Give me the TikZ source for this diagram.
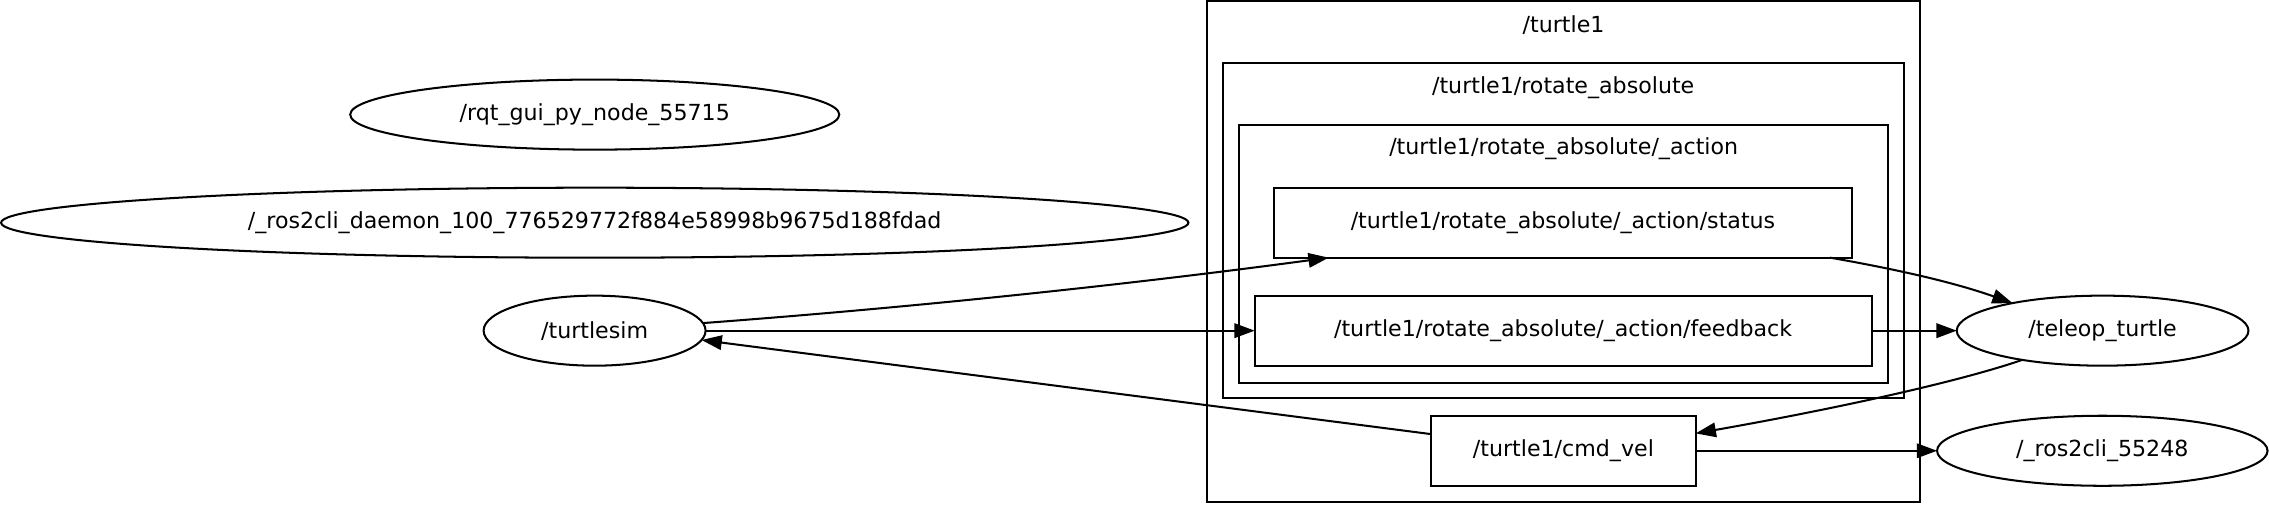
\documentclass[tikz,border=0pt]{standalone}
\usepackage{fontspec}
\setmainfont{DejaVu Sans}
\usetikzlibrary{arrows.meta,shapes.geometric}
\tikzset{
  base/.style={font=\fontsize{15.3}{18}\selectfont, line width=1.4pt, inner sep=0pt, outer sep=0pt},
  ell/.style={base, draw, ellipse, minimum height=48.4pt},
  topic/.style={base, draw, rectangle, minimum height=48.4pt},
  cluster/.style={draw, line width=1.4pt, rectangle, inner sep=0pt, outer sep=0pt},
  clabel/.style={base},
  edge/.style={line width=1.4pt, -{Triangle[length=14pt,width=10pt]}}
}
\begin{document}
\begin{tikzpicture}[x=1pt,y=-1pt]
\useasboundingbox (0,0) rectangle (1568,348.3);
% clusters
\node[cluster, minimum width=493pt, minimum height=346pt] (turtle1) at (1080.5,174) {};
\node[clabel] (turtle1lbl) at (1080.5,17.3) {/turtle1};
\node[cluster, minimum width=470.5pt, minimum height=232pt] (rotabs) at (1080.25,159.3) {};
\node[clabel] (rotabslbl) at (1080.25,60.4) {/turtle1/rotate\_absolute};
\node[cluster, minimum width=448.8pt, minimum height=178.1pt] (action) at (1080.6,175.45) {};
\node[clabel] (actionlbl) at (1080.6,103) {/turtle1/rotate\_absolute/\_action};
% topics
\node[topic, minimum width=399.8pt] (status) at (1080.1,153.85) {/turtle1/rotate\_absolute/\_action/status};
\node[topic, minimum width=426.3pt] (feedback) at (1080.2,228.5) {/turtle1/rotate\_absolute/\_action/feedback};
\node[topic, minimum width=182.8pt] (cmdvel) at (1080.4,311.5) {/turtle1/cmd\_vel};
% ros nodes
\node[ell, minimum width=338pt] (rqt) at (411,79.2) {/rqt\_gui\_py\_node\_55715};
\node[ell, minimum width=820.5pt] (daemon) at (411,153.9) {/\_ros2cli\_daemon\_100\_776529772f884e58998b9675d188fdad};
\node[ell, minimum width=153.4pt] (turtlesim) at (410.9,228.5) {/turtlesim};
\node[ell, minimum width=201.6pt] (teleop) at (1453,228.5) {/teleop\_turtle};
\node[ell, minimum width=228.4pt] (cli) at (1452.8,311.5) {/\_ros2cli\_55248};
% edges
\draw[edge] (turtlesim.4) .. controls (650,211) and (800,194) .. ([xshift=38pt]status.south west);
\draw[edge] (turtlesim.east) -- (feedback.west);
\draw[edge] ([yshift=11.5pt]cmdvel.west) -- (turtlesim.-5);
\draw[edge] ([xshift=-15.3pt]status.south east) .. controls (1310,186) and (1350,195) .. (teleop.163);
\draw[edge] (feedback.east) -- (teleop.west);
\draw[edge] (teleop.200) .. controls (1350,265) and (1260,284) .. ([yshift=-12.2pt]cmdvel.north east);
\draw[edge] (cmdvel.east) -- (cli.west);
\end{tikzpicture}
\end{document}
